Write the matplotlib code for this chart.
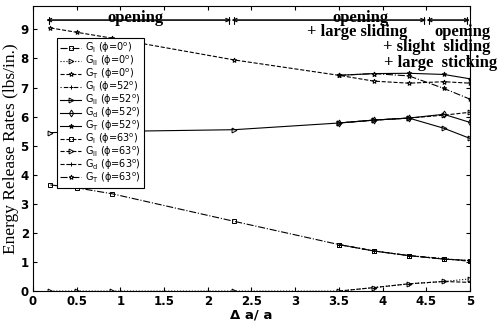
import numpy as np
import matplotlib
matplotlib.use('Agg')
import matplotlib.pyplot as plt

# crack extension points
x_all = [0.2, 0.5, 0.9, 2.3, 3.5, 3.9, 4.3, 4.7, 5.0]
x_late = [3.5, 3.9, 4.3, 4.7, 5.0]

# phi = 0
gI_0 = [3.65, 3.55, 3.35, 2.4, 1.6, 1.38, 1.22, 1.1, 1.05]
gII_0 = [0, 0, 0, 0, 0, 0.12, 0.25, 0.33, 0.42]
gT_0 = [9.05, 8.9, 8.7, 7.95, 7.42, 7.22, 7.15, 7.2, 7.15]

# phi = 52
gI_52 = [1.6, 1.38, 1.22, 1.12, 1.02]
gII_52 = [5.45, 5.47, 5.49, 5.55, 5.78, 5.88, 5.95, 5.6, 5.25]
gd_52 = [5.78, 5.88, 5.95, 6.08, 5.8]
gT_52 = [7.42, 7.48, 7.49, 7.45, 7.3]

# phi = 63
gI_63 = [1.6, 1.38, 1.22, 1.1, 1.05]
gII_63 = [5.78, 5.88, 5.95, 6.05, 6.15]
gd_63 = [0, 0.12, 0.25, 0.33, 0.3]
gT_63 = [7.42, 7.48, 7.4, 6.97, 6.6]

sub = lambda s: r'$_{\rm %s}$' % s
def lab(g, p):
    return 'G' + sub(g) + ' (\u03d5=' + p + r'$^{\rm o}$)'

fig = plt.figure(figsize=(4.99, 3.22), dpi=100)
ax = fig.add_axes([0.066, 0.096, 0.876, 0.885])

kw = dict(color='black', lw=0.8, ms=3.5, mfc='none', mew=0.7)
ax.plot(x_all, gI_0, marker='s', ls='-.', label=lab('I', '0'), **kw)
ax.plot(x_all, gII_0, marker='>', ls=':', label=lab('II', '0'), **kw)
ax.plot(x_all, gT_0, marker='*', ls='--', label=lab('T', '0'), **kw)
ax.plot(x_late, gI_52, marker='+', ls=(0, (1, 2, 4, 2)), label=lab('I', '52'), **kw)
ax.plot(x_all, gII_52, marker='>', ls='-', label=lab('II', '52'), **kw)
ax.plot(x_late, gd_52, marker='d', ls='-', label=lab('d', '52'), **kw)
ax.plot(x_late, gT_52, marker='*', ls='-', label=lab('T', '52'), **kw)
ax.plot(x_late, gI_63, marker='s', ls='--', label=lab('I', '63'), **kw)
ax.plot(x_late, gII_63, marker='>', ls='--', label=lab('II', '63'), **kw)
ax.plot(x_late, gd_63, marker='+', ls='--', label=lab('d', '63'), **kw)
ax.plot(x_late, gT_63, marker='*', ls='-.', label=lab('T', '63'), **kw)

ax.set_xlim(0, 5)
ax.set_ylim(0, 9.8)
ax.set_xticks(np.arange(0, 5.01, 0.5))
ax.set_xticklabels(['0', '0.5', '1', '1.5', '2', '2.5', '3', '3.5', '4', '4.5', '5'])
ax.set_yticks(range(10))
ax.tick_params(direction='in', top=True, right=True, length=3, labelsize=8.5, pad=3)
for t in ax.get_xticklabels() + ax.get_yticklabels():
    t.set_fontweight('bold')

ax.set_xlabel('\u0394 a/ a', fontsize=9.5, fontweight='bold', labelpad=0)
ax.set_ylabel('Energy Release Rates (lbs/in.)', fontsize=12.5,
              family='Liberation Serif', labelpad=1)

# regime arrows along the top
ya = 9.32
for a, b in [(0.15, 2.27), (2.27, 4.5), (4.5, 5.0)]:
    ax.annotate('', xy=(b, ya), xytext=(a, ya),
                arrowprops=dict(arrowstyle='|-|,widthA=0.25,widthB=0.25', lw=0.8, color='black'))
    ax.annotate('', xy=(b, ya), xytext=(a, ya),
                arrowprops=dict(arrowstyle='<->,head_width=0.12,head_length=0.3', lw=0.8,
                                color='black', shrinkA=0, shrinkB=0))

tf = dict(family='Liberation Serif', fontweight='bold', fontsize=12, ha='center')
ax.text(1.17, 9.27, 'opening', va='baseline', **tf)
ax.text(3.75, 9.27, 'opening', va='baseline', **tf)
ax.text(3.71, 8.9, '+ large sliding', va='center', **tf)
ax.text(4.91, 8.9, 'opening', va='center', **tf)
ax.text(4.62, 8.38, '+ slight  sliding', va='center', **tf)
ax.text(4.66, 7.83, '+ large  sticking', va='center', **tf)

leg = ax.legend(loc='upper left', bbox_to_anchor=(0.055, 0.888), fontsize=7,
                labelspacing=-0.15, handlelength=2.2, handletextpad=0.4,
                borderpad=0.3, borderaxespad=0, fancybox=False, framealpha=1,
                edgecolor='black')
leg.get_frame().set_linewidth(0.8)

fig.savefig('out.png', dpi=100)
